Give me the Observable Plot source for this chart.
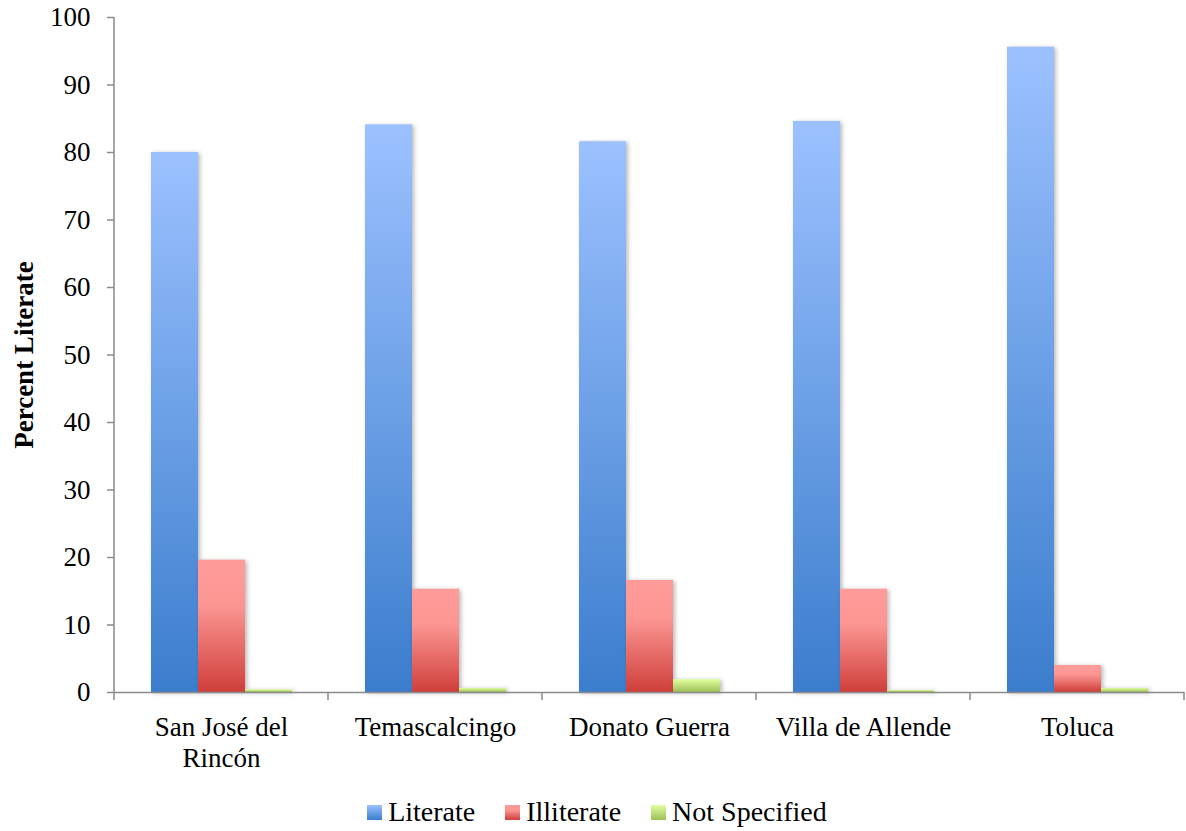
<!DOCTYPE html>
<html>
<head>
<meta charset="utf-8">
<script src="https://cdn.jsdelivr.net/npm/d3@7"></script>
<script src="https://cdn.jsdelivr.net/npm/@observablehq/plot@0.6"></script>
<style>
  body { margin: 0; background: white; font-family: "Liberation Serif", serif; }
  #chart svg { display: block; }
  g[aria-label="bar"] rect { filter: drop-shadow(2px 1px 2px rgba(0,0,0,0.28)); }
  .legend { display: flex; justify-content: center; align-items: center; height: 64px;
            padding-left: 8px; font-size: 28px; color: black; }
  .legend .item { display: flex; align-items: center; margin: 0 15px; }
  .legend svg { margin-right: 6px; }
</style>
</head>
<body>
<svg width="0" height="0" style="position:absolute">
  <defs>
    <linearGradient id="grad-literate" x1="0" y1="0" x2="0" y2="1">
      <stop offset="0" stop-color="#9cc1ff"/>
      <stop offset="1" stop-color="#3b7dcd"/>
    </linearGradient>
    <linearGradient id="grad-illiterate" x1="0" y1="0" x2="0" y2="1">
      <stop offset="0" stop-color="#ff9c9a"/>
      <stop offset="0.35" stop-color="#fb9592"/>
      <stop offset="1" stop-color="#cf3e3a"/>
    </linearGradient>
    <linearGradient id="grad-notspec" x1="0" y1="0" x2="0" y2="1">
      <stop offset="0" stop-color="#e0ffa0"/>
      <stop offset="1" stop-color="#9cbf55"/>
    </linearGradient>
  </defs>
</svg>
<div id="chart"></div>
<div class="legend" id="legend"></div>
<script>
// Literacy by municipality (percent of population)
const categories = ["San José del Rincón", "Temascalcingo", "Donato Guerra", "Villa de Allende", "Toluca"];
const categoryLabels = ["San José del\nRincón", "Temascalcingo", "Donato Guerra", "Villa de Allende", "Toluca"];
const seriesNames = ["Literate", "Illiterate", "Not Specified"];
const literate = [80.0, 84.1, 81.6, 84.6, 95.6];
const illiterate = [19.6, 15.3, 16.6, 15.3, 4.0];
const notSpecified = [0.4, 0.6, 1.9, 0.3, 0.6];
const yTicks = [0, 10, 20, 30, 40, 50, 60, 70, 80, 90, 100];
const gradientIds = ["grad-literate", "grad-illiterate", "grad-notspec"];

const seriesValues = [literate, illiterate, notSpecified];
const rows = [];
categories.forEach((c, i) => {
  seriesNames.forEach((s, j) => rows.push({category: c, series: s, value: seriesValues[j][i]}));
});

const axisGray = "#8a8a8a";

const plot = Plot.plot({
  width: 1186,
  height: 780,
  marginTop: 17,
  marginLeft: 112,
  marginRight: 0,
  marginBottom: 88,
  style: {fontFamily: "'Liberation Serif', serif", fontSize: "27px", color: "black", background: "white"},
  fx: {domain: categories, padding: 0},
  x: {domain: seriesNames, paddingInner: 0, paddingOuter: 0.75, axis: null},
  y: {domain: [0, 100]},
  color: {domain: seriesNames, range: gradientIds.map(id => `url(#${id})`)},
  marks: [
    Plot.barY(rows, {fx: "category", x: "series", y: "value", fill: "series"}),
    Plot.ruleY([0], {stroke: axisGray, strokeWidth: 1.5}),
    Plot.axisY({
      ticks: yTicks, tickSize: 7, tickPadding: 17, stroke: axisGray, strokeWidth: 1.5,
      fill: "black", fontSize: 27,
      label: "Percent Literate", labelAnchor: "center", labelOffset: 101, labelArrow: "none"
    }),
    Plot.axisFx({
      anchor: "bottom", tickSize: 0, tickPadding: 21, label: null, fill: "black",
      fontSize: 27, lineHeight: 1.15,
      tickFormat: d => categoryLabels[categories.indexOf(d)]
    })
  ]
});

// bold axis title
d3.select(plot).selectAll('g[aria-label="y-axis label"] text').attr("font-weight", "bold").attr("font-size", 27);

// value-axis line and category boundary ticks, placed with the plot's scales
const fx = plot.scale("fx");
const y = plot.scale("y");
const y0 = y.apply(0), yTop = y.apply(100);
const bounds = categories.map(c => fx.apply(c));
bounds.push(fx.apply(categories[categories.length - 1]) + fx.bandwidth);
const g = d3.select(plot).append("g").attr("stroke", axisGray).attr("stroke-width", 1.5);
g.append("line").attr("x1", bounds[0]).attr("x2", bounds[0]).attr("y1", yTop).attr("y2", y0 + 8);
g.selectAll("line.b").data(bounds.slice(1)).join("line").attr("class", "b")
  .attr("x1", d => d).attr("x2", d => d).attr("y1", y0).attr("y2", y0 + 8);

document.getElementById("chart").appendChild(plot);

// legend
const legend = d3.select("#legend");
seriesNames.forEach((s, j) => {
  const item = legend.append("div").attr("class", "item");
  item.append("svg").attr("width", 15).attr("height", 15)
    .append("rect").attr("width", 15).attr("height", 15).attr("fill", `url(#${gradientIds[j]})`);
  item.append("span").text(s);
});
</script>
</body>
</html>
